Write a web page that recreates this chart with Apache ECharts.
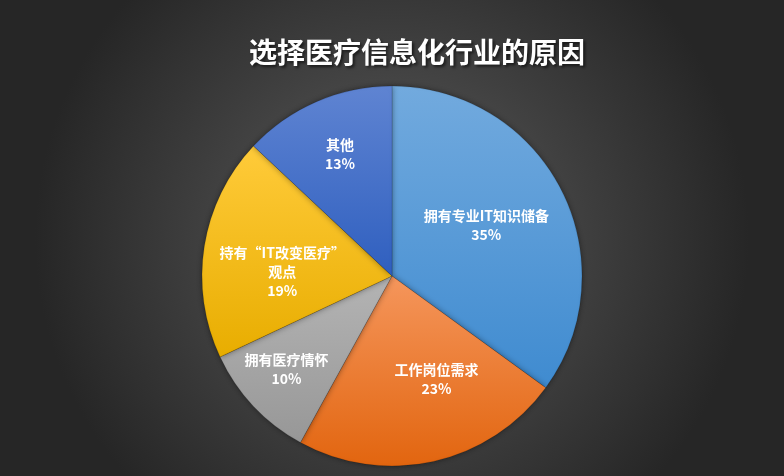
<!DOCTYPE html>
<html>
<head>
<meta charset="utf-8">
<script src="https://cdn.jsdelivr.net/npm/echarts@6/dist/echarts.min.js"></script>
<style>
html, body { margin: 0; padding: 0; }
#main { width: 784px; height: 476px; }
</style>
</head>
<body>
<div id="main"></div>
<script>
var names = ['拥有专业IT知识储备', '工作岗位需求', '拥有医疗情怀', '持有“IT改变医疗”\n观点', '其他'];
var values = [35, 23, 10, 19, 13];
var colorsTop = ['#72aade', '#f5965c', '#b4b4b4', '#ffcb3a', '#5f84d2'];
var colorsBottom = ['#3f8bd0', '#e2650f', '#979797', '#e8ad00', '#2f5fbf'];
// Excel places these labels a bit off the mid radius
var labelShift = [[7, -6], [23, 8], [-34, 26], [-13, 11], [-13, -32]];

var chartDom = document.getElementById('main');
var myChart = echarts.init(chartDom);
var option;

var pieData = names.map(function (n, i) {
    return {
        name: n,
        value: values[i],
        label: { offset: labelShift[i] },
        itemStyle: {
            color: new echarts.graphic.LinearGradient(0, 0, 0, 1, [
                { offset: 0, color: colorsTop[i] },
                { offset: 1, color: colorsBottom[i] }
            ])
        }
    };
});

option = {
    backgroundColor: new echarts.graphic.RadialGradient(0.5, 0.5, 0.75, [
        { offset: 0, color: '#5c5c5c' },
        { offset: 1, color: '#262626' }
    ]),
    title: {
        text: '选择医疗信息化行业的原因',
        left: 412,
        top: 33,
        textAlign: 'center',
        textStyle: {
            color: '#ffffff',
            fontSize: 28,
            fontWeight: 'bold',
            fontFamily: 'Noto Sans CJK SC',
            textShadowColor: 'rgba(0,0,0,0.6)',
            textShadowBlur: 3,
            textShadowOffsetX: 2,
            textShadowOffsetY: 2
        }
    },
    series: [{
        type: 'pie',
        center: [392, 276],
        radius: [0, 190],
        startAngle: 90,
        clockwise: true,
        itemStyle: {
            borderColor: 'rgba(0,0,0,0.15)',
            borderWidth: 0.5,
            shadowColor: 'rgba(0,0,0,0.4)',
            shadowBlur: 6
        },
        label: {
            show: true,
            position: 'inside',
            color: '#ffffff',
            fontSize: 14,
            fontWeight: 'bold',
            lineHeight: 19,
            fontFamily: 'Noto Sans CJK SC',
            formatter: function (p) {
                return p.name + '\n' + p.value + '%';
            }
        },
        labelLine: { show: false },
        data: pieData
    }]
};

option && myChart.setOption(option);
</script>
</body>
</html>
